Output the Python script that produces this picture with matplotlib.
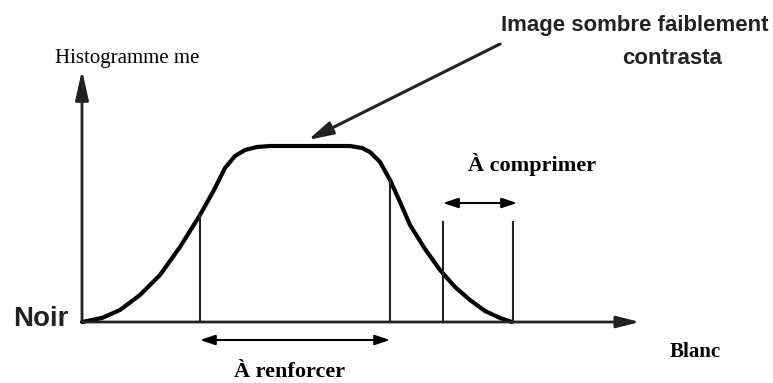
import matplotlib.pyplot as plt
import numpy as np

# niveaux de gris (abscisse) et valeurs de l'histogramme (ordonnee)
niveaux = [0, 20, 38, 58, 78, 98, 118, 132, 143, 153, 163, 175, 188, 228, 268, 280, 288, 298, 308, 318, 328, 343, 358, 373, 388, 403, 418, 430]
histo = [0, 4, 12, 27, 47, 75, 107, 132, 154, 166, 172, 175, 176, 176, 176, 174, 170, 160, 142, 120, 97, 73, 52, 35, 22, 11, 4, 0]

# bornes des zones
zone_renforcer = [118, 308]
zone_comprimer = [361, 431]
haut_renforcer = [107, 142]
haut_comprimer = [100, 100]

fig = plt.figure(figsize=(7.73, 3.83), dpi=100)
ax = fig.add_axes([0, 0, 1, 1])
ax.set_xlim(-82, 691)
ax.set_ylim(-61, 322)
ax.axis('off')

serif = 'Liberation Serif'
sans = 'Liberation Sans'

# axes avec fleches
ax.annotate('', xy=(558, 0), xytext=(0, 0),
            arrowprops=dict(arrowstyle='-|>,head_length=1.4,head_width=0.35', color='#222222', lw=2, shrinkA=0, shrinkB=0))
ax.annotate('', xy=(0, 252), xytext=(0, 0),
            arrowprops=dict(arrowstyle='-|>,head_length=1.8,head_width=0.4', color='#222222', lw=2, shrinkA=0, shrinkB=0))

# courbe
ax.plot(niveaux, histo, color='black', lw=3, solid_capstyle='round', solid_joinstyle='round')

# traits verticaux
for x, h in zip(zone_renforcer, haut_renforcer):
    ax.plot([x, x], [0, h], color='#222222', lw=1.5)
for x, h in zip(zone_comprimer, haut_comprimer):
    ax.plot([x, x], [0, h], color='#222222', lw=1.5)

# doubles fleches
ax.annotate('', xy=(zone_renforcer[0], -18), xytext=(zone_renforcer[1], -18),
            arrowprops=dict(arrowstyle='<|-|>,head_length=0.9,head_width=0.3', color='black', lw=1.5, shrinkA=0, shrinkB=0))
ax.annotate('', xy=(zone_comprimer[0], 119), xytext=(zone_comprimer[1] + 4, 119),
            arrowprops=dict(arrowstyle='<|-|>,head_length=0.9,head_width=0.3', color='black', lw=1.5, shrinkA=0, shrinkB=0))

# textes
ax.text(208, -50, 'À renforcer', fontfamily=serif, fontweight='bold', fontsize=16, ha='center', va='center')
ax.text(450, 158, 'À comprimer', fontfamily=serif, fontweight='bold', fontsize=16, ha='center', va='center')
ax.text(613, -30, 'Blanc', fontfamily=serif, fontweight='bold', fontsize=15, ha='center', va='center')
ax.text(-41, 3, 'Noir', fontfamily=sans, fontweight='bold', fontsize=20, ha='center', va='center', color='#222222')
ax.text(45, 264, 'Histogramme me', fontfamily=serif, fontsize=15, ha='center', va='center')
ax.text(553, 297, 'Image sombre faiblement', fontfamily=sans, fontweight='bold', fontsize=16, ha='center', va='center', color='#222222')
ax.text(590, 263, 'contrasta', fontfamily=sans, fontweight='bold', fontsize=16, ha='center', va='center', color='#222222')

# fleche vers le plateau
ax.annotate('', xy=(226, 182), xytext=(418, 278),
            arrowprops=dict(arrowstyle='-|>,head_length=1.5,head_width=0.4', color='#222222', lw=2.2, shrinkA=0, shrinkB=0))

fig.savefig('out.png', dpi=100, facecolor='white')
